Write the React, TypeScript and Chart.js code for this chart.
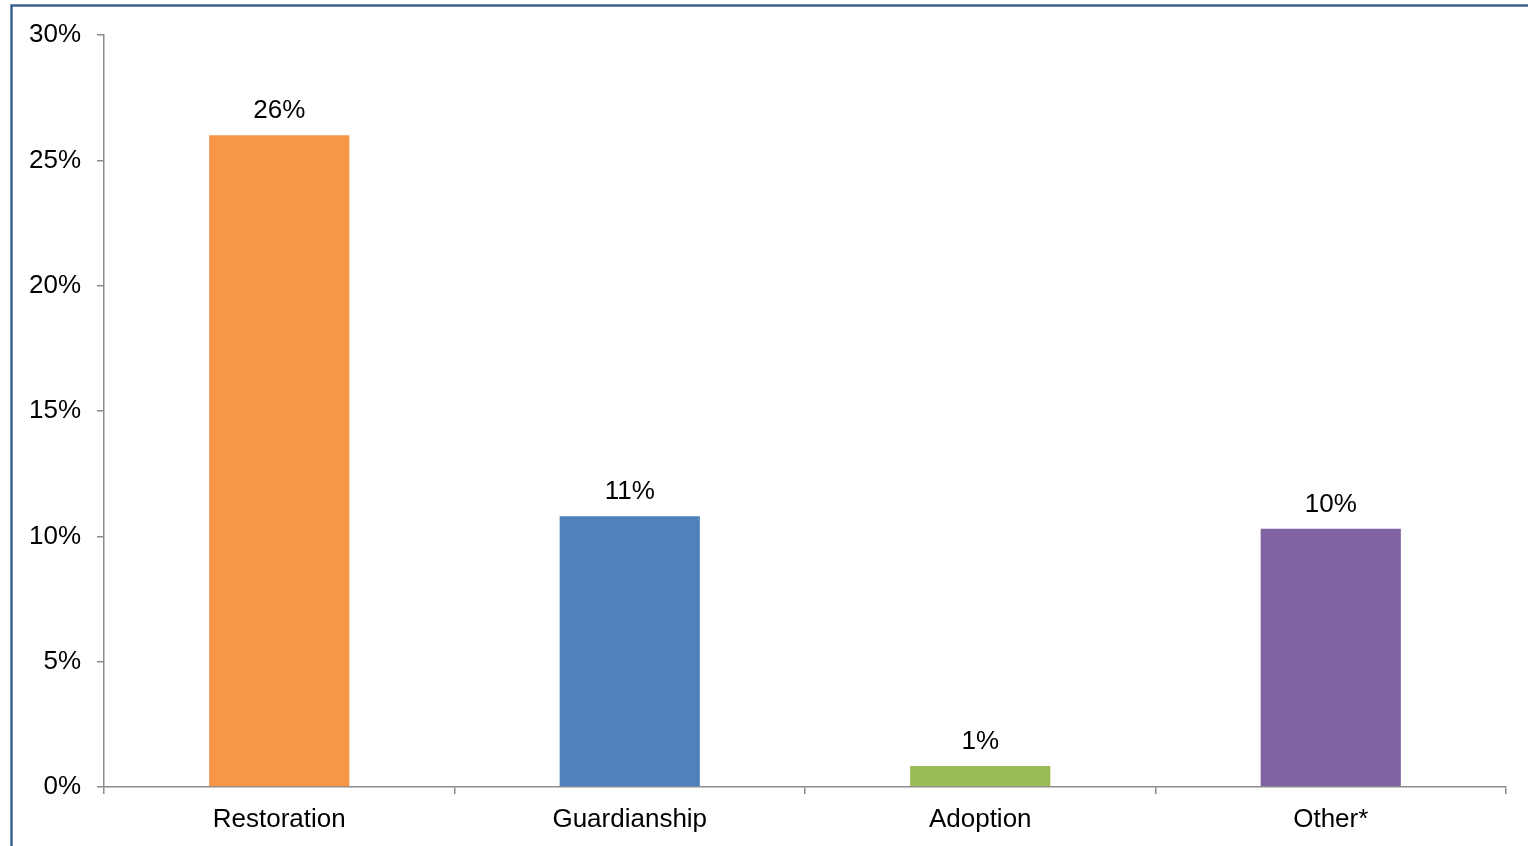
import React, { useEffect, useRef } from "react";
import { Chart, registerables } from "chart.js";

Chart.register(...registerables);

const categories = ["Restoration", "Guardianship", "Adoption", "Other*"];
const shares = [26.0, 10.8, 0.84, 10.3];
const barColors = ["#F79646", "#4F81BD", "#9BBB59", "#8064A2"];
const yTicks = [0, 5, 10, 15, 20, 25, 30];

const FONT = "'Liberation Sans', Arial, sans-serif";

// Outer frame around the chart, plus the rounded value label over each bar.
const framePlugin = {
  id: "frame",
  beforeDraw(chart: any) {
    const { ctx } = chart;
    ctx.save();
    ctx.fillStyle = "#ffffff";
    ctx.fillRect(0, 0, chart.width, chart.height);
    ctx.strokeStyle = "#3b6194";
    ctx.lineWidth = 2.5;
    ctx.strokeRect(11.5, 5.5, chart.width + 40, chart.height + 40);
    ctx.restore();
  },
};

const valueLabelPlugin = {
  id: "valueLabels",
  afterDatasetsDraw(chart: any) {
    const { ctx } = chart;
    const meta = chart.getDatasetMeta(0);
    ctx.save();
    ctx.font = `26px ${FONT}`;
    ctx.fillStyle = "#000000";
    ctx.textAlign = "center";
    ctx.textBaseline = "alphabetic";
    meta.data.forEach((bar: any, i: number) => {
      const v = chart.data.datasets[0].data[i] as number;
      ctx.fillText(`${Math.round(v)}%`, bar.x, bar.y - 17);
    });
    ctx.restore();
  },
};

export default function App() {
  const canvasRef = useRef<HTMLCanvasElement | null>(null);

  useEffect(() => {
    if (!canvasRef.current) return;
    const chart = new Chart(canvasRef.current, {
      type: "bar",
      data: {
        labels: categories,
        datasets: [
          {
            data: shares,
            backgroundColor: barColors,
            borderWidth: 0,
            barPercentage: 0.4,
            categoryPercentage: 1,
          },
        ],
      },
      options: {
        animation: false,
        responsive: false,
        maintainAspectRatio: false,
        events: [],
        layout: { padding: { top: 35, right: 22, left: 0, bottom: 0 } },
        plugins: {
          legend: { display: false },
          tooltip: { enabled: false },
          title: { display: false },
        },
        scales: {
          x: {
            offset: true,
            grid: {
              offset: true,
              drawOnChartArea: false,
              drawTicks: true,
              tickLength: 7,
              color: "#8c8c8c",
              lineWidth: 1.5,
            },
            border: { display: true, color: "#8c8c8c", width: 1.5 },
            ticks: {
              color: "#000000",
              font: { family: FONT, size: 26 },
              padding: 10,
              maxRotation: 0,
            },
            afterFit(scale: any) {
              scale.height = 59;
            },
          },
          y: {
            min: 0,
            max: 30,
            afterBuildTicks(scale: any) {
              scale.ticks = yTicks.map((v) => ({ value: v }));
            },
            grid: {
              drawOnChartArea: false,
              drawTicks: true,
              tickLength: 7,
              color: "#8c8c8c",
              lineWidth: 1.5,
            },
            border: { display: true, color: "#8c8c8c", width: 1.5 },
            ticks: {
              color: "#000000",
              font: { family: FONT, size: 26 },
              padding: 16,
              callback: (v: any) => `${v}%`,
            },
            afterFit(scale: any) {
              scale.width = 104;
            },
          },
        },
      },
      plugins: [framePlugin, valueLabelPlugin],
    });
    return () => chart.destroy();
  }, []);

  return (
    <div
      style={{
        position: "fixed",
        left: 0,
        top: 0,
        width: 1528,
        height: 846,
        overflow: "hidden",
        background: "#ffffff",
      }}
    >
      <canvas ref={canvasRef} width={1528} height={846} style={{ display: "block" }} />
    </div>
  );
}
